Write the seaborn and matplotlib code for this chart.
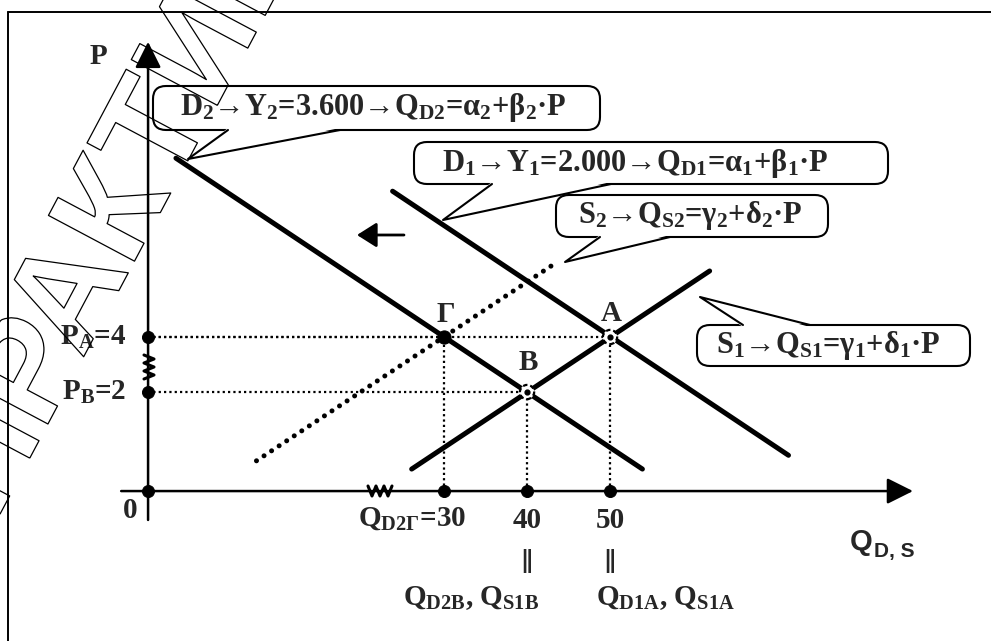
import matplotlib
matplotlib.use("Agg")
import matplotlib.pyplot as plt
import matplotlib.patheffects as pe
import matplotlib.transforms as mtransforms
from matplotlib.patches import FancyBboxPatch, Polygon
import seaborn as sns

# -----------------------------------------------------------
# Style
# -----------------------------------------------------------
sns.set_theme(style="white")
plt.rcParams["font.family"] = ["Liberation Serif", "DejaVu Serif"]
plt.rcParams["font.weight"] = "bold"
plt.rcParams["mathtext.fontset"] = "custom"
plt.rcParams["mathtext.rm"] = "Liberation Serif:bold"
plt.rcParams["mathtext.it"] = "Liberation Serif:bold"
plt.rcParams["mathtext.bf"] = "Liberation Serif:bold"

# -----------------------------------------------------------
# Data
# -----------------------------------------------------------
Q_TICKS = [30, 40, 50]
P_TICKS = [4, 2]
P_LABELS = ["P$_A$=4", "P$_B$=2"]

# segment ends of the four curves: Q at both ends, P at both ends
D1_Q = [23.8, 71.5]
D1_P = [9.3, -0.3]
D2_Q = [-2.3, 53.9]
D2_P = [10.5, -0.8]
S1_Q = [26.1, 62.0]
S1_P = [-0.8, 6.4]
S2_Q = [7.4, 43.5]
S2_P = [-0.5, 6.7]

# equilibrium points
EQ_NAMES = ["A", "B", "Γ"]
EQ_Q = [50, 40, 30]
EQ_P = [4, 2, 4]

# axes origin (the axes are drawn with breaks, so 0 sits here)
Q0 = -5.66
P0 = -1.6

CALLOUTS = [
    "D$_2$→Y$_2$=3.600→Q$_{D2}$=α$_2$+β$_2$·P",
    "D$_1$→Y$_1$=2.000→Q$_{D1}$=α$_1$+β$_1$·P",
    "S$_2$→Q$_{S2}$=γ$_2$+δ$_2$·P",
    "S$_1$→Q$_{S1}$=γ$_1$+δ$_1$·P",
]

# -----------------------------------------------------------
# Figure / axes
# -----------------------------------------------------------
fig = plt.figure(figsize=(9.91, 6.41), dpi=100)
ax = fig.add_axes([0, 0, 1, 1], zorder=1)
ax.set_xlim(-23.5, 95.9)
ax.set_ylim(-7.05, 16.25)
ax.axis("off")
ax.patch.set_visible(False)

# overlay in pixels for the frame, call-outs and watermark
ov = fig.add_axes([0, 0, 1, 1], zorder=2)
ov.set_xlim(0, 991)
ov.set_ylim(641, 0)
ov.axis("off")
ov.patch.set_visible(False)

x_pix_y_data = mtransforms.blended_transform_factory(ov.transData, ax.transData)

FS = 21

# frame
ov.plot([8, 991], [12, 12], color="black", lw=1.4)
ov.plot([8, 8], [12, 641], color="black", lw=1.4)

# -----------------------------------------------------------
# Axes with arrows
# -----------------------------------------------------------
arrow_kw = dict(arrowstyle="-|>,head_length=0.8,head_width=0.4", color="black",
                lw=1.8, mutation_scale=20, shrinkA=0, shrinkB=0)
ax.annotate("", xy=(Q0, 14.73), xytext=(Q0, -2.65), arrowprops=arrow_kw, zorder=3)
ax.annotate("", xy=(86.5, P0), xytext=(-8.9, P0), arrowprops=arrow_kw, zorder=3)

# axis breaks
ov.plot([368, 372, 376, 380, 384, 388, 392], [486, 496, 486, 496, 486, 496, 486],
        color="black", lw=2.2)
ov.plot([144, 154, 144, 154, 144, 154, 144], [355, 359, 363, 367, 371, 375, 379],
        color="black", lw=2.2)

# -----------------------------------------------------------
# Guides
# -----------------------------------------------------------
guide_kw = dict(color="black", lw=1.6, linestyle=(0, (1, 1.4)), zorder=2)
for q, p in zip(EQ_Q, EQ_P):
    ax.plot([Q0, q], [p, p], **guide_kw)
    ax.plot([q, q], [P0, p], **guide_kw)

# -----------------------------------------------------------
# Curves
# -----------------------------------------------------------
for q, p in [(D1_Q, D1_P), (D2_Q, D2_P), (S1_Q, S1_P)]:
    sns.lineplot(x=q, y=p, ax=ax, color="black", lw=3.6, zorder=4)
sns.lineplot(x=S2_Q, y=S2_P, ax=ax, color="black", lw=3.6, zorder=4,
             linestyle=(0, (0.01, 1.8)), dash_capstyle="round")

# -----------------------------------------------------------
# Points
# -----------------------------------------------------------
sns.scatterplot(x=[Q0] * len(P_TICKS) + [Q0], y=P_TICKS + [P0], ax=ax,
                color="black", s=75, edgecolor="black", zorder=6)
sns.scatterplot(x=Q_TICKS, y=[P0] * len(Q_TICKS), ax=ax,
                color="black", s=75, edgecolor="black", zorder=6)
sns.scatterplot(x=EQ_Q[2:], y=EQ_P[2:], ax=ax, color="black", s=90,
                edgecolor="black", zorder=6)
ax.scatter(EQ_Q[:2], EQ_P[:2], s=105, facecolors="white", edgecolors="black",
           linewidths=1.6, linestyles=(0, (2, 1.3)), zorder=6)
ax.scatter(EQ_Q[:2], EQ_P[:2], s=12, color="black", zorder=7)

# -----------------------------------------------------------
# Labels
# -----------------------------------------------------------
ov.text(98, 57, "P", fontsize=FS, ha="center", va="center")
ov.text(130, 511, "0", fontsize=FS, ha="center", va="center")
for p, lab in zip(P_TICKS, P_LABELS):
    ax.text(126, p, lab, transform=x_pix_y_data, fontsize=FS, ha="right", va="center")

ax.annotate("Q$_{D2Γ}$=30", (Q_TICKS[0], P0), xytext=(16, -20), textcoords="offset points",
            fontsize=FS, ha="right", va="center")
for q in Q_TICKS[1:]:
    ax.annotate(str(q), (q, P0), xytext=(0, -21), textcoords="offset points",
                fontsize=FS, ha="center", va="center")
    ax.annotate("‖", (q, P0), xytext=(0, -53), textcoords="offset points",
                fontsize=24, ha="center", va="center")
ax.annotate("Q$_{D2B}$, Q$_{S1B}$", (Q_TICKS[1], P0), xytext=(-40, -77),
            textcoords="offset points", fontsize=FS, ha="center", va="center")
ax.annotate("Q$_{D1A}$, Q$_{S1A}$", (Q_TICKS[2], P0), xytext=(40, -77),
            textcoords="offset points", fontsize=FS, ha="center", va="center")

for name, q, p, dy in zip(EQ_NAMES, EQ_Q, EQ_P, [17, 21, 16]):
    ax.annotate(name, (q, p), xytext=(1, dy), textcoords="offset points",
                fontsize=FS, ha="center", va="center", zorder=8)

ov.text(850, 550, "Q", family="Liberation Sans", weight="bold", fontsize=21, va="baseline")
ov.text(874, 557, "D, S", family="Liberation Sans", weight="bold", fontsize=15, va="baseline")

# shift arrow
ov.annotate("", xy=(357, 235), xytext=(404, 235),
            arrowprops=dict(arrowstyle="-|>,head_length=0.6,head_width=0.38", color="black",
                            lw=2, mutation_scale=20, shrinkA=0, shrinkB=0))

# -----------------------------------------------------------
# Call-outs
# -----------------------------------------------------------
def callout(text, box, base, tip, tx):
    x0, y0, x1, y1 = box
    ov.add_patch(FancyBboxPatch((x0, y0), x1 - x0, y1 - y0,
                                boxstyle="round,pad=0,rounding_size=13",
                                fc="white", ec="black", lw=1.5, zorder=3))
    edge = y1 if tip[1] > y1 else y0
    inside = -2 if edge == y1 else 2
    ov.add_patch(Polygon([(base[0], edge + inside), tip, (base[1], edge + inside)],
                         closed=True, fc="white", ec="none", zorder=4))
    ov.plot([base[0], tip[0], base[1]], [edge, tip[1], edge], color="black", lw=1.5, zorder=5)
    ov.text(tx, (y0 + y1) / 2, text, fontsize=22, ha="center", va="center", zorder=6)


callout(CALLOUTS[0], (153, 86, 600, 130), (228, 340), (188, 159), 373)
callout(CALLOUTS[1], (414, 142, 888, 184), (492, 611), (443, 220), 635)
callout(CALLOUTS[2], (556, 195, 828, 237), (600, 670), (565, 262), 690)
callout(CALLOUTS[3], (697, 325, 970, 366), (743, 810), (700, 297), 828)

# watermark: outline letters only, lying over everything
ov.text(165, 125, "ПРАКТИКУМ", rotation=62, rotation_mode="anchor",
        ha="center", va="center", fontsize=102, family="Liberation Sans",
        weight="bold", color="none", zorder=10,
        path_effects=[pe.Stroke(linewidth=0.9, foreground="black")])

fig.savefig("out.png", dpi=100)
